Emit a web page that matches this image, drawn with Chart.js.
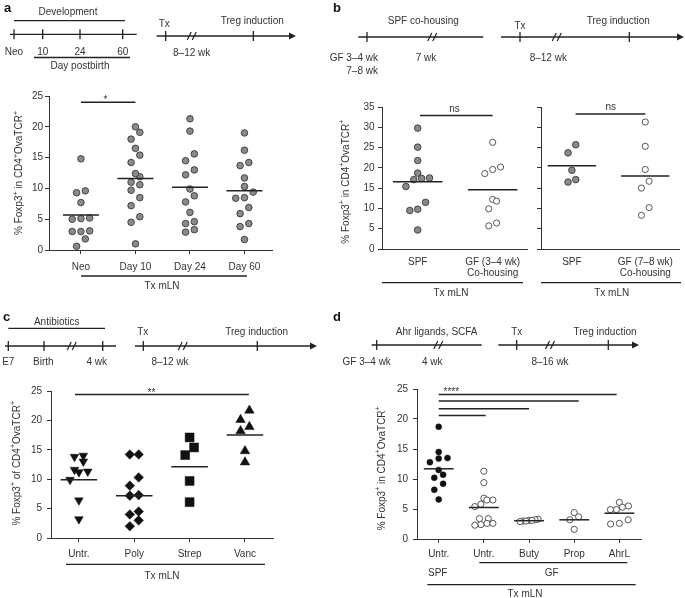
<!DOCTYPE html>
<html>
<head>
<meta charset="utf-8">
<script src="https://cdn.jsdelivr.net/npm/chart.js@4.4.1/dist/chart.umd.min.js"></script>
<style>
  html, body { margin: 0; padding: 0; background: #fff; }
  #page { position: relative; width: 685px; height: 598px; overflow: hidden; }
  #page canvas { position: absolute; }
  #ann { position: absolute; left: 0; top: 0; pointer-events: none; }
  #ann text { font-family: "Liberation Sans", Arial, sans-serif; font-size: 10px; fill: #333; }
</style>
</head>
<body>
<div id="page">
  <canvas id="chartA"></canvas>
  <canvas id="chartB1"></canvas>
  <canvas id="chartB2"></canvas>
  <canvas id="chartC"></canvas>
  <canvas id="chartD"></canvas>
  <svg id="ann" width="685" height="598"></svg>
</div>
<script>
// ---- panel a: development age at transfer ----
const aCats = ['Neo', 'Day 10', 'Day 24', 'Day 60'];
const aNeo = [14.8, 9.3, 9.6, 7.7, 5.2, 5.0, 5.1, 3.0, 3.0, 3.1, 1.8, 0.6];
const aDay10 = [20.0, 19.1, 18.0, 16.5, 15.4, 14.2, 11.9, 12.4, 11.0, 10.6, 9.7, 8.5, 7.2, 5.4, 4.5, 1.0];
const aDay24 = [21.3, 19.3, 15.6, 14.5, 13.0, 12.2, 9.9, 8.8, 7.8, 6.1, 4.3, 4.6, 2.9, 3.3];
const aDay60 = [19.0, 16.2, 14.2, 13.7, 11.7, 10.3, 9.4, 8.5, 8.4, 6.9, 5.9, 4.3, 3.8, 1.7];
const aMedians = [5.7, 11.6, 10.2, 9.6];
const aYTicks = [0, 5, 10, 15, 20, 25];
const aSig = [{ x1: 1, x2: 2, y: 24, label: '*', lx: 1.45 }];

// ---- panel b: SPF co-housing ----
const bCatsLeft = ['SPF', ['GF (3–4 wk)', 'Co-housing']];
const bCatsRight = ['SPF', ['GF (7–8 wk)', 'Co-housing']];
const bSpf34 = [29.8, 25.1, 21.8, 18.7, 17.4, 17.5, 17.1, 15.4, 11.5, 9.8, 9.5, 4.7];
const bGf34 = [26.3, 20.2, 19.6, 18.6, 12.2, 11.8, 9.9, 6.4, 5.7];
const bSpf78 = [25.7, 23.7, 19.4, 17.1, 16.5];
const bGf78 = [31.3, 25.3, 19.6, 16.7, 15.0, 10.2, 8.3];
const bMediansLeft = [16.6, 14.6];
const bMediansRight = [20.5, 18.0];
const bYTicks = [0, 5, 10, 15, 20, 25, 30, 35];
const bSigLeft = [{ x1: 1.03, x2: 2, y: 32.9, label: 'ns', lx: 1.49 }];
const bSigRight = [{ x1: 1.05, x2: 2, y: 33.3, label: 'ns', lx: 1.53 }];

// ---- panel c: antibiotics ----
const cCats = ['Untr.', 'Poly', 'Strep', 'Vanc'];
const cUntr = [14.0, 13.8, 13.0, 11.6, 11.3, 11.2, 9.9, 6.4, 3.2];
const cPoly = [14.2, 14.2, 10.3, 8.9, 7.3, 7.2, 4.5, 4.0, 3.0, 2.0];
const cStrep = [17.1, 15.4, 14.1, 9.7, 6.1];
const cVanc = [21.7, 20.1, 18.9, 18.2, 14.8, 12.9];
const cMedians = [9.9, 7.2, 12.1, 17.5];
const cYTicks = [0, 5, 10, 15, 20, 25];
const cSig = [{ x1: 0.93, x2: 4.07, y: 24.4, label: '**', lx: 2.31 }];

// ---- panel d: Ahr ligands, SCFA ----
const dCats = ['Untr.', 'Untr.', 'Buty', 'Prop', 'AhrL'];
const dSpf = [18.7, 14.5, 13.5, 13.4, 12.8, 11.5, 10.7, 10.2, 9.2, 8.2, 6.6];
const dGfUntr = [11.3, 9.4, 6.8, 6.5, 6.5, 5.8, 5.4, 3.4, 3.4, 2.6, 2.6, 2.4, 2.3];
const dButy = [3.3, 3.2, 3.1, 3.1, 3.0, 3.0, 2.9];
const dProp = [4.4, 3.7, 3.2, 1.6];
const dAhrL = [6.1, 5.5, 5.3, 4.9, 4.9, 3.2, 2.6, 2.5];
const dMedians = [11.7, 5.25, 3.05, 3.2, 4.3];
const dYTicks = [0, 5, 10, 15, 20, 25];
const dSig = [
    { x1: 1, x2: 4.94, y: 24.1, label: '****', lx: 1.28 },
    { x1: 1, x2: 4.1, y: 23.0 },
    { x1: 1, x2: 3.0, y: 21.7 },
    { x1: 1, x2: 2.04, y: 20.6 }
];

const FONT = '"Liberation Sans", Arial, sans-serif';
Chart.defaults.font.family = FONT;
Chart.defaults.font.size = 10;
Chart.defaults.color = '#333';

// point styles
const grey = { pointStyle: 'circle', pointRadius: 3.3, pointBackgroundColor: '#8a8a8a', pointBorderColor: '#3a3a3a', pointBorderWidth: 0.9 };
const open = { pointStyle: 'circle', pointRadius: 3.1, pointBackgroundColor: '#fff', pointBorderColor: '#444', pointBorderWidth: 0.9 };
const black = { pointStyle: 'circle', pointRadius: 3.0, pointBackgroundColor: '#111', pointBorderColor: '#111', pointBorderWidth: 0.5 };

// Prism-like column scatter: points close in value share a row, spread symmetrically
function swarm(values, h, step, maxW) {
    const idx = values.map((v, i) => i).sort((p, q) => values[p] - values[q]);
    const offs = new Array(values.length).fill(0);
    let row = [];
    const flush = () => {
        const n = row.length;
        let s = step;
        if (maxW && n > 1 && (n - 1) * s > maxW) s = maxW / (n - 1);
        row.forEach((k, j) => { offs[k] = (j - (n - 1) / 2) * s; });
        row = [];
    };
    idx.forEach(k => {
        if (row.length && values[k] - values[row[0]] >= h) flush();
        row.push(k);
    });
    flush();
    return offs;
}

function pointSet(vals, cat, style, sw) {
    const offs = swarm(vals, sw.h, sw.step, sw.maxW);
    return Object.assign({
        data: vals.map((v, i) => ({ x: cat + offs[i], y: v })),
        order: 1,
        clip: false
    }, style);
}

function medianSet(m, cat) {
    return {
        data: [{ x: cat - 0.33, y: m }, { x: cat + 0.33, y: m }],
        showLine: true, borderColor: '#222', borderWidth: 1.5,
        pointRadius: 0, order: 0, clip: false
    };
}

function sigPlugin(bars) {
    return {
        id: 'sig',
        afterDatasetsDraw(chart) {
            const { ctx, scales: { x, y } } = chart;
            ctx.save();
            ctx.strokeStyle = '#222';
            ctx.lineWidth = 1.5;
            ctx.fillStyle = '#333';
            ctx.font = '10px ' + FONT;
            ctx.textAlign = 'center';
            ctx.textBaseline = 'alphabetic';
            bars.forEach(b => {
                const py = y.getPixelForValue(b.y);
                ctx.beginPath();
                ctx.moveTo(x.getPixelForValue(b.x1), py);
                ctx.lineTo(x.getPixelForValue(b.x2), py);
                ctx.stroke();
                if (b.label) {
                    ctx.fillText(b.label, x.getPixelForValue(b.lx), py + (b.label === 'ns' ? -4 : 1));
                }
            });
            ctx.restore();
        }
    };
}

// area = wanted chart area in page pixels
function buildChart(id, area, o) {
    const padTop = 12, yW = 50, xH = 40, padR = o.padR || 4;
    const cv = document.getElementById(id);
    cv.width = area.r - area.l + yW + padR;
    cv.height = area.b - area.t + padTop + xH;
    cv.style.left = (area.l - yW) + 'px';
    cv.style.top = (area.t - padTop) + 'px';

    return new Chart(cv, {
        type: 'scatter',
        data: { datasets: o.datasets },
        options: {
            responsive: false,
            devicePixelRatio: 1,
            animation: false,
            layout: { padding: { top: padTop, right: padR, left: 0, bottom: 0 } },
            plugins: { legend: { display: false }, tooltip: { enabled: false } },
            scales: {
                x: {
                    type: 'linear', min: o.xMin, max: o.xMax,
                    afterBuildTicks: s => { s.ticks = o.cats.map((c, i) => ({ value: i + 1 })); },
                    afterFit: s => { s.height = xH; },
                    ticks: {
                        callback: v => o.cats[Math.round(v) - 1],
                        autoSkip: false, maxRotation: 0, minRotation: 0,
                        padding: o.xPad, color: '#333',
                        font: { size: 10, lineHeight: 1.1 }
                    },
                    grid: {
                        display: true, drawOnChartArea: false, drawTicks: true,
                        tickLength: 4, color: '#333',
                        tickColor: o.xTicks === false ? 'rgba(0,0,0,0)' : '#333'
                    },
                    border: { display: true, color: '#333', width: 1 }
                },
                y: {
                    type: 'linear', min: 0, max: o.yMax,
                    afterBuildTicks: s => { s.ticks = o.yTicks.map(v => ({ value: v })); },
                    afterFit: s => { s.width = yW; },
                    ticks: {
                        callback: v => (o.yLabels === false ? '' : String(v)),
                        padding: o.yPad, color: '#333', font: { size: 10 }
                    },
                    grid: { display: true, drawOnChartArea: false, tickLength: 4, color: '#333' },
                    border: { display: true, color: '#333', width: 1 }
                }
            }
        },
        plugins: [sigPlugin(o.sig || [])]
    });
}

// ---- charts ----
const swA = { h: 1.3, step: 0.16 };
buildChart('chartA', { l: 49, r: 273, t: 96, b: 250 }, {
    cats: aCats, xMin: 0.414, xMax: 4.507, yMax: 25, yTicks: aYTicks,
    xPad: 8, yPad: 2, sig: aSig,
    datasets: [
        pointSet(aNeo, 1, grey, swA), pointSet(aDay10, 2, grey, swA),
        pointSet(aDay24, 3, grey, swA), pointSet(aDay60, 4, grey, swA)
    ].concat(aMedians.map((m, i) => medianSet(m, i + 1)))
});

const swB = { h: 2.1, step: 0.105 };
buildChart('chartB1', { l: 382, r: 528, t: 107, b: 249 }, {
    cats: bCatsLeft, xMin: 0.524, xMax: 2.459, yMax: 35, yTicks: bYTicks,
    xPad: 4, yPad: 3.5, xTicks: false, sig: bSigLeft,
    datasets: [pointSet(bSpf34, 1, grey, swB), pointSet(bGf34, 2, open, swB)]
        .concat(bMediansLeft.map((m, i) => medianSet(m, i + 1)))
});
buildChart('chartB2', { l: 541, r: 681, t: 107, b: 249 }, {
    cats: bCatsRight, xMin: 0.579, xMax: 2.461, yMax: 35, yTicks: bYTicks,
    xPad: 4, yPad: 3.5, xTicks: false, yLabels: false, padR: 3, sig: bSigRight,
    datasets: [pointSet(bSpf78, 1, grey, swB), pointSet(bGf78, 2, open, swB)]
        .concat(bMediansRight.map((m, i) => medianSet(m, i + 1)))
});

const swC = { h: 1.6, step: 0.16 };
const tri = { pointBackgroundColor: '#111', pointBorderColor: '#111', pointBorderWidth: 0.5 };
buildChart('chartC', { l: 51, r: 276, t: 391, b: 538 }, {
    cats: cCats, xMin: 0.496, xMax: 4.51, yMax: 25, yTicks: cYTicks,
    xPad: 6.5, yPad: 5, sig: cSig,
    datasets: [
        pointSet(cUntr, 1, Object.assign({ pointStyle: 'triangle', pointRotation: 180, pointRadius: 5 }, tri), swC),
        pointSet(cPoly, 2, Object.assign({ pointStyle: 'rectRot', pointRadius: 4.8 }, tri), swC),
        pointSet(cStrep, 3, Object.assign({ pointStyle: 'rect', pointRadius: 6.3 }, tri), swC),
        pointSet(cVanc, 4, Object.assign({ pointStyle: 'triangle', pointRadius: 5.5 }, tri), swC)
    ].concat(cMedians.map((m, i) => medianSet(m, i + 1)))
});

const swD = { h: 1.1, step: 0.195, maxW: 0.4 };
buildChart('chartD', { l: 417, r: 642, t: 389, b: 539 }, {
    cats: dCats, xMin: 0.52, xMax: 5.48, yMax: 25, yTicks: dYTicks,
    xPad: 5.5, yPad: 5, sig: dSig,
    datasets: [
        pointSet(dSpf, 1, black, swD), pointSet(dGfUntr, 2, open, swD),
        pointSet(dButy, 3, open, swD), pointSet(dProp, 4, open, swD),
        pointSet(dAhrL, 5, open, swD)
    ].concat(dMedians.map((m, i) => medianSet(m, i + 1)))
});

// ---- timelines, brackets, axis titles ----
const svg = document.getElementById('ann');
const NS = 'http://www.w3.org/2000/svg';
function el(tag, attrs, text, parent) {
    const e = document.createElementNS(NS, tag);
    for (const k in attrs) e.setAttribute(k, attrs[k]);
    if (text !== undefined) e.textContent = text;
    (parent || svg).appendChild(e);
    return e;
}
function ln(x1, y1, x2, y2, w) { el('line', { x1, y1, x2, y2, stroke: '#222', 'stroke-width': w || 1.3 }); }
function tx(x, y, s, anchor) { return el('text', { x, y, 'text-anchor': anchor || 'middle' }, s); }
function letter(x, y, s) {
    el('text', { x, y, 'text-anchor': 'start', style: 'font-size:13px;font-weight:bold;fill:#111' }, s);
}
function tick(x, y) { ln(x, y - 5, x, y + 5); }
function brk(x, y) { ln(x - 4.5, y + 4, x - 0.5, y - 4, 1.2); ln(x + 0.5, y + 4, x + 4.5, y - 4, 1.2); }
function arrow(x, y) { el('path', { d: `M${x},${y} L${x - 7},${y - 3.5} L${x - 7},${y + 3.5} Z`, fill: '#222' }); }
function yTitle(cx, cy, word) {
    const t = el('text', { transform: `translate(${cx},${cy}) rotate(-90)`, 'text-anchor': 'middle', 'dominant-baseline': 'middle' });
    const parts = [['% Foxp3'], ['+', 1], [' ' + word + ' CD4'], ['+', 1], ['OvaTCR'], ['+', 1]];
    let up = false;
    parts.forEach(p => {
        const a = {};
        if (p[1] && !up) { a.dy = -3.5; a.style = 'font-size:7px'; up = true; }
        else if (!p[1] && up) { a.dy = 3.5; up = false; }
        else if (p[1]) { a.style = 'font-size:7px'; }
        el('tspan', a, p[0], t);
    });
}

// a
letter(4, 12, 'a');
tx(68, 15, 'Development');
ln(14, 20.7, 125, 20.7);
ln(10, 34.3, 136.7, 34.3);
[14, 42.7, 80, 122.7].forEach(x => tick(x, 34.3));
tx(14, 54.5, 'Neo'); tx(42.7, 54.5, '10'); tx(80, 54.5, '24'); tx(122.7, 54.5, '60');
ln(34, 57.5, 130, 57.5);
tx(80, 69, 'Day postbirth');
ln(156.7, 36, 290, 36); arrow(296, 36);
tick(165.7, 36); tick(253.3, 36); brk(191.7, 36);
tx(164.3, 27, 'Tx'); tx(252.3, 23.5, 'Treg induction'); tx(191.7, 56, '8–12 wk');
ln(81, 276, 247, 276); tx(162, 288.5, 'Tx mLN');
yTitle(19, 173, 'in');

// b
letter(333, 12, 'b');
tx(423.3, 24, 'SPF co-housing');
ln(358.3, 37, 483.3, 37); tick(367, 37); brk(432.3, 37);
tx(378, 60.5, 'GF 3–4 wk', 'end'); tx(378, 73.5, '7–8 wk', 'end'); tx(426, 60.5, '7 wk');
ln(501, 37, 677, 37); arrow(684, 37);
tick(520, 37); tick(629.3, 37); brk(556.7, 37);
tx(520, 28.5, 'Tx'); tx(618.3, 23.5, 'Treg induction'); tx(548.3, 60.5, '8–12 wk');
ln(382, 282.7, 523, 282.7); tx(451, 295.5, 'Tx mLN');
ln(541, 282.7, 681, 282.7); tx(611.7, 295.5, 'Tx mLN');
yTitle(345.7, 181.7, 'in');

// c
letter(3, 321, 'c');
tx(56.7, 325, 'Antibiotics');
ln(8.3, 328.3, 105, 328.3);
ln(5, 346, 116, 346);
[8.3, 44, 102.7].forEach(x => tick(x, 346)); brk(71.7, 346);
tx(8.3, 365, 'E7'); tx(43.3, 365, 'Birth'); tx(96.7, 365, '4 wk');
ln(135, 346, 311, 346); arrow(317, 346);
tick(143.3, 346); tick(257.3, 346); brk(182.7, 346);
tx(142.7, 335, 'Tx'); tx(256.7, 335, 'Treg induction'); tx(170, 365, '8–12 wk');
ln(66, 564.3, 265, 564.3); tx(162, 579, 'Tx mLN');
yTitle(16.7, 463.3, 'of');

// d
letter(333, 321, 'd');
tx(436.7, 335, 'Ahr ligands, SCFA');
ln(371.7, 345, 481.7, 345); tick(376.7, 345); brk(438.3, 345);
tx(366.7, 365, 'GF 3–4 wk'); tx(432.3, 365, '4 wk');
ln(498.3, 345, 633, 345); arrow(639, 345);
tick(516.7, 345); tick(608.3, 345); brk(550, 345);
tx(516.7, 335, 'Tx'); tx(605, 335, 'Treg induction'); tx(550, 365, '8–16 wk');
ln(479.3, 562.7, 627.3, 562.7);
tx(437.7, 576, 'SPF'); tx(551.7, 576, 'GF');
ln(427.3, 584.7, 635.7, 584.7); tx(525, 597, 'Tx mLN');
yTitle(381.7, 468.3, 'in');
</script>
</body>
</html>
